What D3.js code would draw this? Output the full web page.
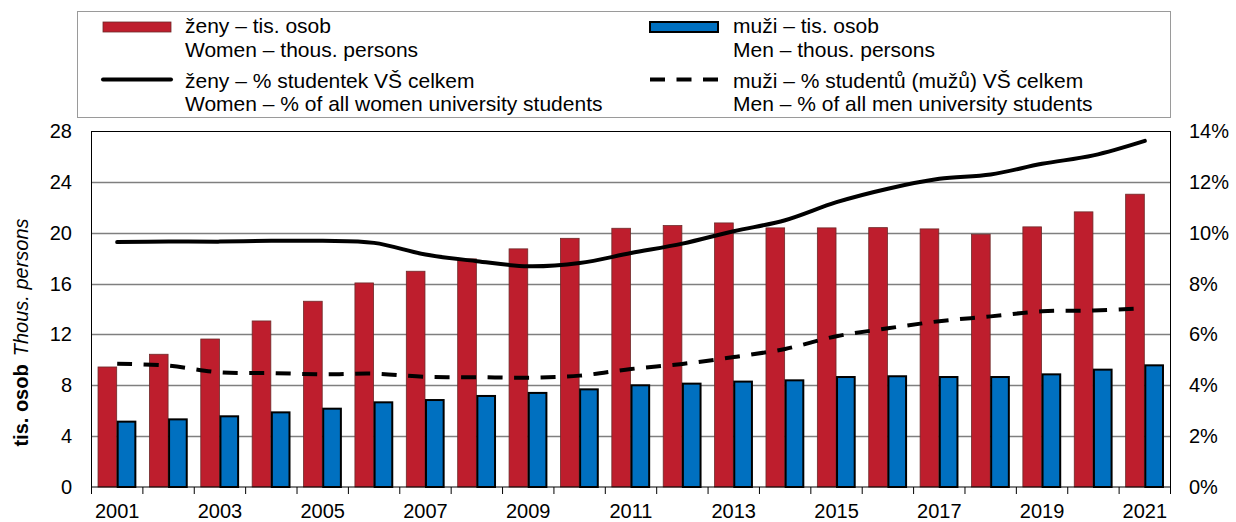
<!DOCTYPE html>
<html>
<head>
<meta charset="utf-8">
<script src="https://cdn.jsdelivr.net/npm/d3@7"></script>
<style>
  html, body { margin: 0; padding: 0; background: #fff; }
  svg { display: block; font-family: "Liberation Sans", Arial, sans-serif; }
</style>
</head>
<body>
<svg id="chart" width="1236" height="522"></svg>
<script>
const years = ["2001","2002","2003","2004","2005","2006","2007","2008","2009","2010","2011",
               "2012","2013","2014","2015","2016","2017","2018","2019","2020","2021"];
const women = [9.44,10.44,11.64,13.06,14.61,16.05,16.97,17.94,18.73,19.56,20.35,
               20.56,20.77,20.38,20.38,20.40,20.30,19.88,20.46,21.64,23.03];
const men = [5.14,5.32,5.56,5.87,6.16,6.66,6.84,7.16,7.40,7.68,8.00,
             8.13,8.29,8.39,8.65,8.71,8.65,8.65,8.86,9.23,9.57];
const womenPct = [9.63,9.65,9.65,9.68,9.68,9.60,9.14,8.88,8.68,8.81,9.20,
                  9.57,10.06,10.49,11.20,11.73,12.12,12.29,12.71,13.04,13.61];
const menPct = [4.85,4.77,4.51,4.48,4.43,4.46,4.33,4.32,4.30,4.38,4.64,
                4.84,5.11,5.43,5.93,6.24,6.52,6.71,6.91,6.94,7.03];
const leftTicks = [0,4,8,12,16,20,24,28];
const rightTicks = [0,2,4,6,8,10,12,14];
const labelYears = ["2001","2003","2005","2007","2009","2011","2013","2015","2017","2019","2021"];

const legendItems = [
  {type:"bar", color:"#BE1E2D", l1:"ženy – tis. osob", l2:"Women – thous. persons"},
  {type:"bar", color:"#0070C0", l1:"muži – tis. osob", l2:"Men – thous. persons"},
  {type:"line", dash:null, l1:"ženy – % studentek VŠ celkem", l2:"Women – % of all women university students"},
  {type:"line", dash:"15,11.5", l1:"muži – % studentů (mužů) VŠ celkem", l2:"Men – % of all men university students"}
];

const RED = "#BE1E2D", BLUE = "#0070C0";
const svg = d3.select("#chart");
const L = 91.5, R = 1170.5, T = 131, B = 487;

const x = d3.scaleBand().domain(years).range([L, R]).paddingInner(0).paddingOuter(0);
const xs = d3.scaleBand().domain(["w","m"]).range([0, x.bandwidth()]).paddingInner(0).paddingOuter(0.34);
const y = d3.scaleLinear().domain([0, 28]).range([B, T]);
const yR = d3.scaleLinear().domain([0, 14]).range([B, T]);

// gridlines
svg.append("g").selectAll("line").data(leftTicks.filter(d => d > 0 && d < 28)).join("line")
  .attr("x1", L).attr("x2", R)
  .attr("y1", d => Math.round(y(d)) + 0.5).attr("y2", d => Math.round(y(d)) + 0.5)
  .attr("stroke", "#7f7f7f").attr("stroke-width", 1.5);

// bars
const bw = xs.bandwidth();
svg.append("g").selectAll("rect").data(women).join("rect")
  .attr("x", (d, i) => x(years[i]) + xs("w"))
  .attr("y", d => y(d))
  .attr("width", bw - 0.5)
  .attr("height", d => B - y(d))
  .attr("fill", RED).attr("stroke", "#6e2a2a").attr("stroke-width", 0.8);
svg.append("g").selectAll("rect").data(men).join("rect")
  .attr("x", (d, i) => x(years[i]) + xs("m") + 0.5)
  .attr("y", d => y(d))
  .attr("width", bw - 1.5)
  .attr("height", d => B - y(d))
  .attr("fill", BLUE).attr("stroke", "#000").attr("stroke-width", 2);

// lines
const cx = i => x(years[i]) + x.bandwidth() / 2;
const lineW = d3.line().x((d, i) => cx(i)).y(d => yR(d)).curve(d3.curveCatmullRom.alpha(0.5));
svg.append("path").attr("d", lineW(womenPct)).attr("fill", "none")
  .attr("stroke", "#000").attr("stroke-width", 4).attr("stroke-linejoin", "round").attr("stroke-linecap", "round");
svg.append("path").attr("d", lineW(menPct)).attr("fill", "none")
  .attr("stroke", "#000").attr("stroke-width", 4).attr("stroke-dasharray", "15,11.5");

// frame
svg.append("rect").attr("x", L).attr("y", T + 0.5).attr("width", R - L).attr("height", B - T - 0.5)
  .attr("fill", "none").attr("stroke", "#000").attr("stroke-width", 1);

// bottom ticks
const bounds = years.map(yv => x(yv)).concat([R]);
svg.append("g").selectAll("line").data(bounds).join("line")
  .attr("x1", d => d).attr("x2", d => d).attr("y1", B).attr("y2", B + 7)
  .attr("stroke", "#000").attr("stroke-width", 1);

const fs = 20, lfs = 21;
svg.append("g").selectAll("text").data(labelYears).join("text")
  .attr("x", d => x(d) + x.bandwidth() / 2).attr("y", 518)
  .attr("text-anchor", "middle").attr("font-size", fs).attr("fill", "#000").text(d => d);

svg.append("g").selectAll("text").data(leftTicks).join("text")
  .attr("x", 72).attr("y", d => y(d)).attr("dy", "0.35em")
  .attr("text-anchor", "end").attr("font-size", fs).attr("fill", "#000").text(d => d);

svg.append("g").selectAll("text").data(rightTicks).join("text")
  .attr("x", 1189).attr("y", d => yR(d)).attr("dy", "0.35em")
  .attr("text-anchor", "start").attr("font-size", fs).attr("fill", "#000").text(d => d + "%");

// axis title
const at = svg.append("text").attr("transform", "translate(28,332.5) rotate(-90)")
  .attr("text-anchor", "middle").attr("font-size", fs).attr("fill", "#000");
at.append("tspan").attr("font-weight", "bold").text("tis. osob");
at.append("tspan").attr("dx", 8).attr("font-style", "italic").text("Thous. persons");

// legend
svg.append("rect").attr("x", 77.5).attr("y", 11.5).attr("width", 1093).attr("height", 106)
  .attr("fill", "#fff").attr("stroke", "#9a9a9a").attr("stroke-width", 1);
const lg = svg.append("g");
const colX = [103, 650], textX = [185, 733];
legendItems.forEach((it, k) => {
  const col = k % 2, row = Math.floor(k / 2);
  const g = lg.append("g");
  const sy = row === 0 ? 26.5 : 79.5;
  const by = row === 0 ? [32.5, 57] : [87.5, 111];
  if (it.type === "bar") {
    g.append("rect").attr("x", colX[col]).attr("y", 22).attr("width", 68).attr("height", 10)
      .attr("fill", it.color)
      .attr("stroke", col === 0 ? "#6e2a2a" : "#000").attr("stroke-width", col === 0 ? 0.8 : 2);
  } else {
    g.append("line").attr("x1", colX[col]).attr("x2", colX[col] + 68).attr("y1", sy).attr("y2", sy)
      .attr("stroke", "#000").attr("stroke-width", 4)
      .attr("stroke-dasharray", it.dash).attr("stroke-linecap", it.dash ? "butt" : "round");
  }
  g.append("text").attr("x", textX[col]).attr("y", by[0]).attr("font-size", lfs).attr("fill", "#000").text(it.l1);
  g.append("text").attr("x", textX[col]).attr("y", by[1]).attr("font-size", lfs).attr("fill", "#000").text(it.l2);
});
</script>
</body>
</html>
